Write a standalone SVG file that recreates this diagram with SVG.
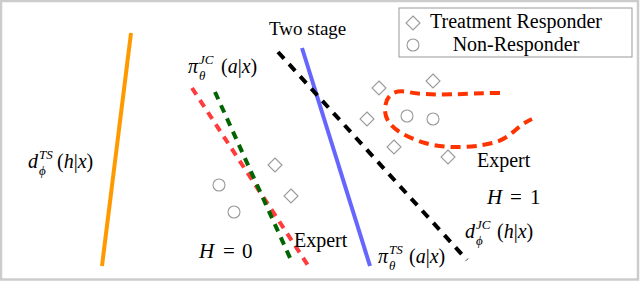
<svg xmlns="http://www.w3.org/2000/svg" width="640" height="282" viewBox="0 0 640 282">
<defs>
<style>
.t{font-family:"Liberation Serif","Times New Roman",serif;fill:#000}
.m{font-family:"Liberation Serif","Times New Roman",serif;font-size:20px;fill:#000}
.s{font-family:"Liberation Serif","Times New Roman",serif;font-size:13px;font-style:italic;fill:#000}
.i{font-style:italic}
.mk{fill:#fff;stroke:#999;stroke-width:1.1}
.ln{fill:none;stroke-width:4}
</style>
<path id="dia" d="M0,-7 L7,0 L0,7 L-7,0 Z"/>
</defs>
<rect x="1" y="1" width="637" height="278.5" fill="#fff" stroke="#cccccc" stroke-width="2.5"/>
<g id="connectors">
<line id="ts-rejector" class="ln" x1="131" y1="33" x2="102" y2="266" stroke="#ff9900"/>
<line id="ts-policy" class="ln" x1="302" y1="48" x2="370" y2="266" stroke="#6666ff" stroke-width="3.5"/>
<line id="jc-rejector" class="ln" x1="278" y1="52" x2="467" y2="260" stroke="#000" stroke-width="4.5" stroke-dasharray="9 7.5"/>
<line id="expert-left" class="ln" x1="192" y1="88" x2="311" y2="270" stroke="#ff3b3b" stroke-dasharray="8 6.5"/>
<line id="jc-policy" class="ln" x1="215" y1="92" x2="291" y2="260" stroke="#006400" stroke-dasharray="8 6.5"/>
<path id="expert-right" class="ln" d="M500,93 C465,93 435,97 408,92 C392,89 386,97 385,108 C384,125 400,135 425,143 C448,150 480,147 496,142 C512,137 516,126 532,119" stroke="#ff3300" stroke-width="4.5" stroke-dasharray="10 6"/>
</g>
<g id="points">
<use href="#dia" class="mk" x="379" y="88"/>
<use href="#dia" class="mk" x="433" y="81"/>
<use href="#dia" class="mk" x="367" y="119"/>
<use href="#dia" class="mk" x="394" y="147"/>
<use href="#dia" class="mk" x="448" y="157"/>
<use href="#dia" class="mk" x="275" y="165"/>
<use href="#dia" class="mk" x="291" y="196"/>
<circle class="mk" cx="407" cy="116" r="6"/>
<circle class="mk" cx="433" cy="119" r="6"/>
<circle class="mk" cx="219" cy="185" r="6"/>
<circle class="mk" cx="234" cy="212" r="6"/>
</g>
<g id="legend">
<rect x="399" y="8" width="233" height="49" fill="#fff" stroke="#999" stroke-width="1"/>
<use href="#dia" class="mk" x="413" y="23"/>
<circle class="mk" cx="413" cy="45" r="6"/>
<text class="t" x="516" y="28" font-size="20" text-anchor="middle">Treatment Responder</text>
<text class="t" x="516" y="51" font-size="20" text-anchor="middle">Non-Responder</text>
</g>
<g id="label-two-stage"><text class="t" x="269" y="35" font-size="19">Two stage</text></g>
<g id="label-expert-right"><text class="t" x="477" y="167" font-size="20">Expert</text></g>
<g id="label-expert-left"><text class="t" x="294" y="247" font-size="20">Expert</text></g>
<g id="label-h0">
<text class="t i" x="199" y="258" font-size="21">H</text>
<text class="t" x="223" y="258" font-size="21">=</text>
<text class="t" x="242" y="258" font-size="21">0</text>
</g>
<g id="label-h1">
<text class="t i" x="487" y="204" font-size="21">H</text>
<text class="t" x="510" y="204" font-size="21">=</text>
<text class="t" x="530" y="204" font-size="21">1</text>
</g>
<g id="label-d-ts">
<text class="m i" x="28" y="168">d</text>
<text class="s" x="39" y="159">TS</text>
<text class="s" x="39" y="174.5">ϕ</text>
<text class="m" x="57" y="168">(<tspan class="i">h</tspan>|<tspan class="i">x</tspan>)</text>
</g>
<g id="label-pi-jc">
<text class="m i" x="188" y="73">π</text>
<text class="s" x="199" y="64">JC</text>
<text class="s" x="199" y="79.5">θ</text>
<text class="m" x="221" y="73">(<tspan class="i">a</tspan>|<tspan class="i">x</tspan>)</text>
</g>
<g id="label-pi-ts">
<text class="m i" x="378" y="263">π</text>
<text class="s" x="389" y="254">TS</text>
<text class="s" x="389" y="269.5">θ</text>
<text class="m" x="409" y="263">(<tspan class="i">a</tspan>|<tspan class="i">x</tspan>)</text>
</g>
<g id="label-d-jc">
<text class="m i" x="465" y="238">d</text>
<text class="s" x="476" y="229">JC</text>
<text class="s" x="476" y="244.5">ϕ</text>
<text class="m" x="497" y="238">(<tspan class="i">h</tspan>|<tspan class="i">x</tspan>)</text>
</g>
</svg>
